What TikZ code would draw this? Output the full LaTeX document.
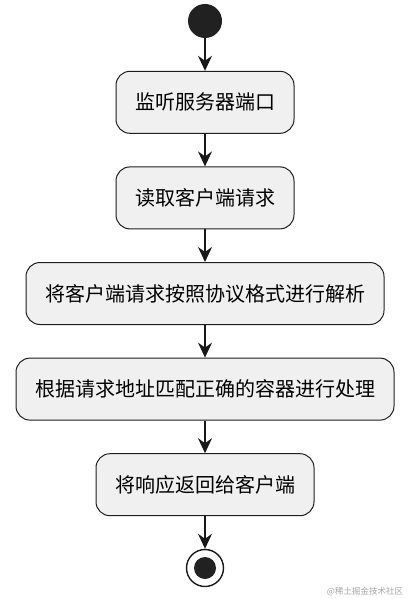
\documentclass[tikz,border=0pt]{standalone}
\usepackage{fontspec}
\newfontfamily\cjk{Noto Sans CJK SC}
\usetikzlibrary{positioning,arrows.meta}

\begin{document}
\begin{tikzpicture}[x=1pt, y=1pt, node distance=32.6pt,
		act/.style={rectangle, rounded corners=14pt, draw=black!88, fill=black!6, line width=1pt, minimum height=62pt, inner xsep=19pt, text centered, font=\cjk\fontsize{20}{24}\selectfont},
		flow/.style={-{Stealth[length=15pt, width=14pt, inset=5pt]}, line width=1.4pt, draw=black!90}]
			\useasboundingbox (0,0) rectangle (407,-599);
			\node (start) [circle, fill=black!87, minimum size=34pt, inner sep=0pt] at (205,-21) {};
			\node (listen) [act, below=of start] {监听服务器端口};
			\node (read) [act, below=of listen] {读取客户端请求};
			\node (parse) [act, below=of read] {将客户端请求按照协议格式进行解析};
			\node (route) [act, below=of parse] {根据请求地址匹配正确的容器进行处理};
			\node (reply) [act, below=of route] {将响应返回给客户端};
			\node (stop) [circle, draw=black!90, line width=1.4pt, minimum size=37pt, inner sep=0pt, below=of reply] {};
			\node (dot) [circle, fill=black!87, minimum size=22pt, inner sep=0pt] at (stop) {};
			
			\draw [flow] (start) -- (listen);
			\draw [flow] (listen) -- (read);
			\draw [flow] (read) -- (parse);
			\draw [flow] (parse) -- (route);
			\draw [flow] (route) -- (reply);
			\draw [flow] (reply) -- (stop);
			
			\node (mark) [text=black!35, font=\cjk\fontsize{8.5}{10}\selectfont] at (365,-592) {@稀土掘金技术社区};
		\end{tikzpicture}
\end{document}
